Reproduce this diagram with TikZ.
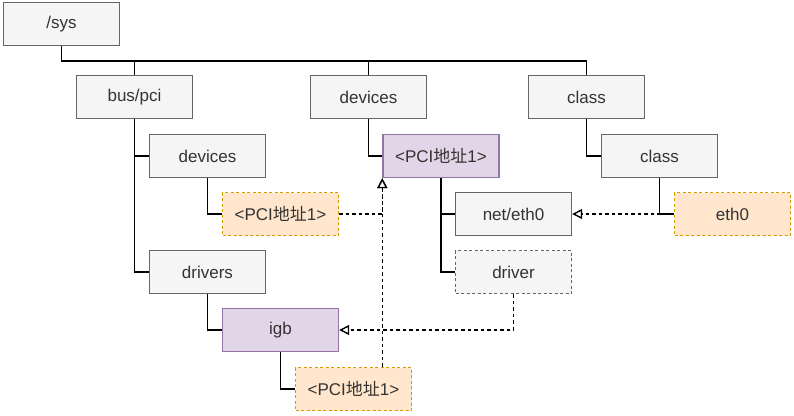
\documentclass[tikz,border=0pt]{standalone}
\usepackage{fontspec}
\setmainfont{Liberation Sans}
\newfontfamily\cjk{Noto Sans CJK SC}
\usetikzlibrary{arrows.meta}
\definecolor{grayfill}{HTML}{F5F5F5}
\definecolor{graystroke}{HTML}{666666}
\definecolor{orangefill}{HTML}{FFE6CC}
\definecolor{orangestroke}{HTML}{D79B00}
\definecolor{purplefill}{HTML}{E1D5E7}
\definecolor{purplestroke}{HTML}{9673A6}
\definecolor{txt}{HTML}{333333}
\begin{document}
\begin{tikzpicture}[x=1pt,y=-1pt,
  base/.style={line width=1.4pt, minimum width=116pt, minimum height=43pt, inner sep=0pt,
    font=\fontsize{17}{20}\selectfont, text=txt},
  graybox/.style={base, draw=graystroke, fill=grayfill},
  graydash/.style={base, draw=graystroke, fill=grayfill, dash pattern=on 3pt off 2.5pt},
  orangebox/.style={base, draw=orangestroke, fill=orangefill, dash pattern=on 3pt off 2.5pt},
  purplebox/.style={base, draw=purplestroke, fill=purplefill},
  tree/.style={line width=1.6pt, draw=black},
  dep/.style={line width=1.4pt, draw=black, dash pattern=on 3.5pt off 3pt,
    -{Triangle[open,length=10pt,width=10pt,line width=1.4pt,fill=white]}}
]
\useasboundingbox (0,0) rectangle (794,415);

\node[graybox] (sys) at (61.5,24) {/sys};
\node[graybox] (buspci) at (134.5,97) {bus/pci};
\node[graybox] (devtop) at (368.5,97) {devices};
\node[graybox] (class) at (586.5,97) {class};
\node[graybox] (busdev) at (207.5,156) {devices};
\node[orangebox] (pci1) at (280.5,214) {<PCI{\cjk 地址}1>};
\node[graybox] (drivers) at (207.5,272) {drivers};
\node[purplebox] (igb) at (280.5,330) {igb};
\node[orangebox] (pci3) at (353.5,389) {<PCI{\cjk 地址}1>};
\node[purplebox] (pci2) at (441,156) {<PCI{\cjk 地址}1>};
\node[graybox] (neteth) at (513.5,214) {net/eth0};
\node[graydash] (driver) at (513.5,272) {driver};
\node[graybox] (class2) at (659.5,156) {class};
\node[orangebox] (eth0) at (732.5,214) {eth0};

\coordinate (j) at (61.5,61);
\draw[tree] (sys.south) -- (j) -| (class.north);
\draw[tree] (buspci.north) -- (buspci.north |- j);
\draw[tree] (devtop.north) -- (devtop.north |- j);

\draw[tree] (buspci.south) |- (drivers.west);
\draw[tree] (buspci.south |- busdev.west) -- (busdev.west);
\draw[tree] (busdev.south) |- (pci1.west);
\draw[tree] (drivers.south) |- (igb.west);
\draw[tree] (igb.south) |- (pci3.west);

\draw[tree] (devtop.south) |- (pci2.west);
\draw[tree] (pci2.south) |- (driver.west);
\draw[tree] (pci2.south |- neteth.west) -- (neteth.west);

\draw[tree] (class.south) |- (class2.west);
\draw[tree] (class2.south) |- (eth0.west);

\draw[dep] (eth0.west) -- (neteth.east);
\draw[dep] (pci1.east) -| (pci2.south west);
\draw[dep] (pci3.north -| pci2.south west) -- (pci2.south west);
\draw[dep] (driver.south) |- (igb.east);
\end{tikzpicture}
\end{document}
